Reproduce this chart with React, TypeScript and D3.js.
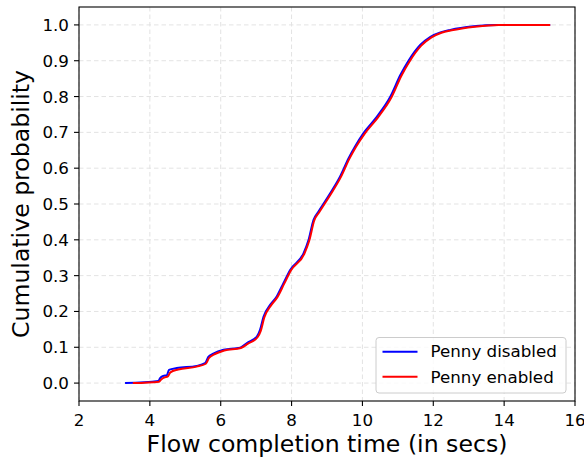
import React from "react";
import * as d3 from "d3";

// Empirical CDF of flow completion time, Penny disabled
const disabledTime = [3.30, 4.24, 4.29, 4.38, 4.48, 4.54, 4.76, 5.32, 5.56, 5.65, 5.79, 6.08, 6.55, 6.74, 7.02, 7.11, 7.21, 7.40, 7.58, 7.77, 7.96, 8.34, 8.48, 8.62, 8.76, 9.09, 9.37, 9.61, 9.80, 10.03, 10.41, 10.79, 11.07, 11.30, 11.63, 11.92, 12.20, 12.48, 13.14, 13.80, 15.30];
const disabledProb = [0.0, 0.006, 0.014, 0.02, 0.022, 0.037, 0.042, 0.048, 0.056, 0.073, 0.082, 0.093, 0.099, 0.112, 0.130, 0.149, 0.186, 0.219, 0.242, 0.279, 0.316, 0.363, 0.400, 0.456, 0.479, 0.530, 0.577, 0.628, 0.662, 0.698, 0.744, 0.800, 0.860, 0.900, 0.944, 0.967, 0.979, 0.986, 0.996, 1.0, 1.0];

// Empirical CDF of flow completion time, Penny enabled
const enabledTime = [3.52, 4.26, 4.32, 4.42, 4.50, 4.58, 4.80, 5.32, 5.58, 5.67, 5.82, 6.10, 6.57, 6.77, 7.04, 7.13, 7.23, 7.42, 7.60, 7.79, 7.98, 8.36, 8.50, 8.64, 8.78, 9.11, 9.39, 9.63, 9.82, 10.06, 10.44, 10.82, 11.10, 11.33, 11.66, 11.95, 12.23, 12.52, 13.18, 13.85, 15.30];
const enabledProb = [0.0, 0.004, 0.010, 0.016, 0.018, 0.030, 0.038, 0.046, 0.054, 0.070, 0.080, 0.091, 0.098, 0.110, 0.128, 0.146, 0.183, 0.217, 0.240, 0.277, 0.314, 0.361, 0.398, 0.454, 0.477, 0.528, 0.575, 0.626, 0.660, 0.696, 0.742, 0.798, 0.858, 0.898, 0.942, 0.965, 0.978, 0.985, 0.995, 1.0, 1.0];

const xTicks = [2, 4, 6, 8, 10, 12, 14, 16];
const yTicks = [0, 0.1, 0.2, 0.3, 0.4, 0.5, 0.6, 0.7, 0.8, 0.9, 1.0];
const seriesNames = ["Penny disabled", "Penny enabled"];
const seriesColors = ["#0000ff", "#ff0000"];

const W = 584;
const H = 461;
const left = 79;
const right = 575;
const top = 7;
const bottom = 401;
const font = "DejaVu Sans, sans-serif";

export default function App() {
  const x = d3.scaleLinear().domain([2, 16]).range([left, right]);
  const y = d3.scaleLinear().domain([-0.05, 1.05]).range([bottom, top]);

  const line = d3
    .line<[number, number]>()
    .x((d) => x(d[0]))
    .y((d) => y(d[1]))
    .curve(d3.curveMonotoneX);

  const series = [
    disabledTime.map((t, i) => [t, disabledProb[i]] as [number, number]),
    enabledTime.map((t, i) => [t, enabledProb[i]] as [number, number]),
  ];

  const legX = 376;
  const legY = 337.5;

  return (
    <svg
      width={W}
      height={H}
      style={{ position: "absolute", left: 0, top: 0, background: "#fff" }}
      fontFamily={font}
    >
      {/* grid */}
      <g stroke="#e3e3e3" strokeWidth={1} strokeDasharray="4.5,3">
        {xTicks.map((t) => (
          <line key={"gx" + t} x1={x(t)} x2={x(t)} y1={top} y2={bottom} />
        ))}
        {yTicks.map((t) => (
          <line key={"gy" + t} x1={left} x2={right} y1={y(t)} y2={y(t)} />
        ))}
      </g>

      {/* curves */}
      {series.map((s, i) => (
        <path
          key={seriesNames[i]}
          d={line(s) || ""}
          fill="none"
          stroke={seriesColors[i]}
          strokeWidth={2}
          strokeLinejoin="round"
        />
      ))}

      {/* frame */}
      <rect
        x={left}
        y={top}
        width={right - left}
        height={bottom - top}
        fill="none"
        stroke="#000"
        strokeWidth={1.1}
      />

      {/* x axis */}
      {xTicks.map((t) => (
        <g key={"xt" + t}>
          <line x1={x(t)} x2={x(t)} y1={bottom} y2={bottom + 5} stroke="#000" strokeWidth={1.1} />
          <text x={x(t)} y={426} textAnchor="middle" fontSize={16.7} fill="#000">
            {t}
          </text>
        </g>
      ))}
      <text x={(left + right) / 2} y={452} textAnchor="middle" fontSize={23.6} fill="#000">
        Flow completion time (in secs)
      </text>

      {/* y axis */}
      {yTicks.map((t) => (
        <g key={"yt" + t}>
          <line x1={left - 5} x2={left} y1={y(t)} y2={y(t)} stroke="#000" strokeWidth={1.1} />
          <text x={69} y={y(t) + 6} textAnchor="end" fontSize={16.7} fill="#000">
            {t.toFixed(1)}
          </text>
        </g>
      ))}
      <text
        transform={`translate(29,${(top + bottom) / 2}) rotate(-90)`}
        textAnchor="middle"
        fontSize={23.6}
        fill="#000"
      >
        Cumulative probability
      </text>

      {/* legend */}
      <rect
        x={legX}
        y={legY}
        width={190}
        height={55.5}
        rx={3}
        fill="#fff"
        fillOpacity={0.8}
        stroke="#cccccc"
        strokeWidth={1}
      />
      {seriesNames.map((name, i) => (
        <g key={"leg" + name}>
          <line
            x1={382.5}
            x2={417.5}
            y1={351.7 + i * 25}
            y2={351.7 + i * 25}
            stroke={seriesColors[i]}
            strokeWidth={2}
          />
          <text x={430.5} y={357.3 + i * 25.4} fontSize={16.7} fill="#000">
            {name}
          </text>
        </g>
      ))}
    </svg>
  );
}
